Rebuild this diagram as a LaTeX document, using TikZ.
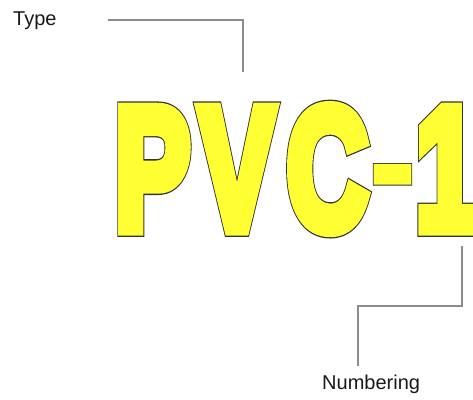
\documentclass[tikz,border=0pt]{standalone}
\usepackage{fontspec}
\setmainfont{Liberation Sans}
\usepackage{graphicx}
\definecolor{leadgray}{RGB}{140,140,140}
\definecolor{labelblack}{RGB}{25,25,25}
\definecolor{pvcyellow}{RGB}{255,255,51}
\newcommand\pvcset[2]{\special{pdf:literal direct 2 Tr #1 w 0 j 4 M #2 RG}}
\newcommand\pvcstring[2]{P\kern14.6pt V\kern19.5pt C\kern8.9pt\raisebox{27.3pt}{\scalebox{1}[0.6]{\pvcset{#1}{#2}-}}\pvcset{#1}{#2}\kern7.1pt 1}
\newcommand\pvclayer[2]{\color{pvcyellow}\pvcset{#1}{#2}\pvcstring{#1}{#2}\special{pdf:literal direct 0 Tr}}
\begin{document}
\begin{tikzpicture}[x=1pt,y=-1pt,
  lead/.style={draw=leadgray, line width=1.6pt},
  lbl/.style={font=\fontsize{20}{24}\selectfont, text=labelblack, inner sep=0pt}]
\useasboundingbox (0,0) rectangle (473,399);
\node[lbl, anchor=west] (type) at (13,21) {Type};
\node[lbl, anchor=west] (numbering) at (322,384) {Numbering};
\node[anchor=base west, inner sep=0pt] (pvc) at (115,228.5)
  {\scalebox{0.65}[1]{\fontsize{172.6}{180}\selectfont\bfseries
   \rlap{\pvclayer{16.6}{0.2 0.2 0.2}}\pvclayer{14}{1 1 0.2}}};
\coordinate (ta) at (108,20);
\coordinate (tb) at (243,72);
\coordinate (na) at (462,246);
\coordinate (nb) at (358,366);
\draw[lead] (ta) -| (tb);
\draw[lead] (na) |- (358,306) -- (nb);
\end{tikzpicture}
\end{document}
